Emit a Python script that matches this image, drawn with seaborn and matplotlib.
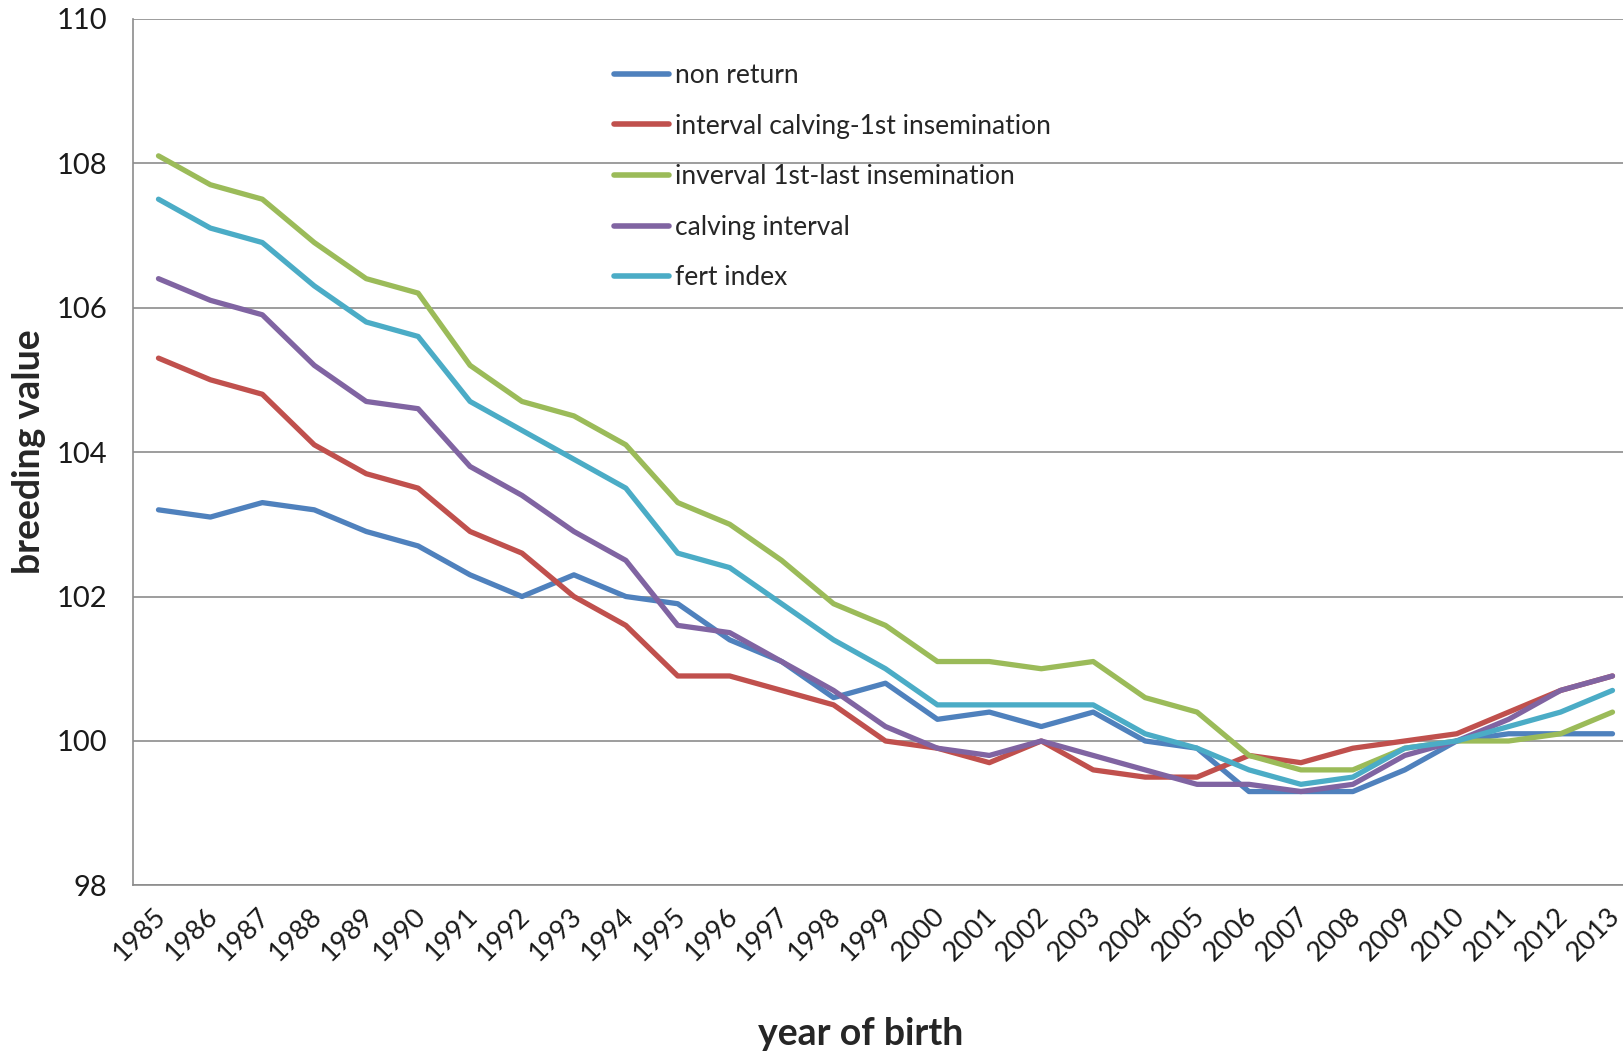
import numpy as np
import pandas as pd
import matplotlib
matplotlib.use("Agg")
import matplotlib.pyplot as plt
import matplotlib.transforms as mtransforms
from matplotlib.ticker import FixedLocator
import seaborn as sns

years = [str(y) for y in range(1985, 2014)]

non_return = [103.2, 103.1, 103.3, 103.2, 102.9, 102.7, 102.3, 102.0, 102.3, 102.0,
              101.9, 101.4, 101.1, 100.6, 100.8, 100.3, 100.4, 100.2, 100.4, 100.0,
              99.9, 99.3, 99.3, 99.3, 99.6, 100.0, 100.1, 100.1, 100.1]
calving_first_ins = [105.3, 105.0, 104.8, 104.1, 103.7, 103.5, 102.9, 102.6, 102.0, 101.6,
                     100.9, 100.9, 100.7, 100.5, 100.0, 99.9, 99.7, 100.0, 99.6, 99.5,
                     99.5, 99.8, 99.7, 99.9, 100.0, 100.1, 100.4, 100.7, 100.9]
first_last_ins = [108.1, 107.7, 107.5, 106.9, 106.4, 106.2, 105.2, 104.7, 104.5, 104.1,
                  103.3, 103.0, 102.5, 101.9, 101.6, 101.1, 101.1, 101.0, 101.1, 100.6,
                  100.4, 99.8, 99.6, 99.6, 99.9, 100.0, 100.0, 100.1, 100.4]
calving_interval = [106.4, 106.1, 105.9, 105.2, 104.7, 104.6, 103.8, 103.4, 102.9, 102.5,
                    101.6, 101.5, 101.1, 100.7, 100.2, 99.9, 99.8, 100.0, 99.8, 99.6,
                    99.4, 99.4, 99.3, 99.4, 99.8, 100.0, 100.3, 100.7, 100.9]
fert_index = [107.5, 107.1, 106.9, 106.3, 105.8, 105.6, 104.7, 104.3, 103.9, 103.5,
              102.6, 102.4, 101.9, 101.4, 101.0, 100.5, 100.5, 100.5, 100.5, 100.1,
              99.9, 99.6, 99.4, 99.5, 99.9, 100.0, 100.2, 100.4, 100.7]

series_names = ["non return",
                "interval calving-1st insemination",
                "inverval 1st-last insemination",
                "calving interval",
                "fert index"]
series_values = [non_return, calving_first_ins, first_last_ins, calving_interval, fert_index]
colors = ["#4F81BD", "#C0504D", "#9BBB59", "#8064A2", "#4BACC6"]

y_ticks = [98, 100, 102, 104, 106, 108, 110]

frames = []
for name, vals in zip(series_names, series_values):
    frames.append(pd.DataFrame({"pos": np.arange(len(years)), "value": vals, "series": name}))
df = pd.concat(frames, ignore_index=True)

sns.set_style("white")
plt.rcParams["font.family"] = ["Lato", "DejaVu Sans"]

fig = plt.figure(figsize=(16.24, 10.51), dpi=100)
ax = fig.add_axes([0.0816, 0.1575, 0.9273, 0.8248])

sns.lineplot(data=df, x="pos", y="value", hue="series", hue_order=series_names,
             palette=colors, linewidth=3.8, ax=ax, legend=True)

grid_c = "#8C8C8C"
ax.set_ylim(98, 110)
ax.set_xlim(-0.5, len(years) - 0.5)
ax.set_yticks(y_ticks)
ax.set_yticklabels([str(v) for v in y_ticks], fontsize=21, color="#1a1a1a")
ax.yaxis.grid(True, color=grid_c, linewidth=1.2)
ax.xaxis.grid(False)
ax.set_axisbelow(True)

ax.set_xticks(np.arange(len(years)))
ax.set_xticklabels(years, rotation=45, ha="right", va="top", rotation_mode="anchor",
                   fontsize=19.5, color="#1a1a1a")
ax.tick_params(axis="x", which="major", length=0, pad=13)
shift = mtransforms.ScaledTranslation(-5 / 100, 0, fig.dpi_scale_trans)
for lbl in ax.get_xticklabels():
    lbl.set_transform(lbl.get_transform() + shift)
ax.xaxis.set_minor_locator(FixedLocator(np.arange(len(years) + 1) - 0.5))
ax.tick_params(axis="x", which="minor", length=11, width=1.2, color=grid_c, direction="out")
ax.tick_params(axis="y", which="major", length=8, width=1.2, color=grid_c, direction="out", pad=10)

for side in ["top", "right"]:
    ax.spines[side].set_visible(False)
for side in ["left", "bottom"]:
    ax.spines[side].set_color(grid_c)
    ax.spines[side].set_linewidth(1.2)

ax.set_xlabel("year of birth", fontsize=27, fontweight="bold")
ax.xaxis.set_label_coords(0.4835, -0.152)
ax.set_ylabel("breeding value", fontsize=27, fontweight="bold", labelpad=8)

handles, labels = ax.get_legend_handles_labels()
for h in handles:
    h.set_linewidth(4)
ax.legend(handles, labels, loc="upper left", bbox_to_anchor=(0.3714, 0.950),
          bbox_transform=fig.transFigure, frameon=False, fontsize=19,
          handlelength=2.08, handletextpad=0.25, labelspacing=0.97, borderaxespad=0)

fig.savefig("out.png", dpi=100, facecolor="white")
